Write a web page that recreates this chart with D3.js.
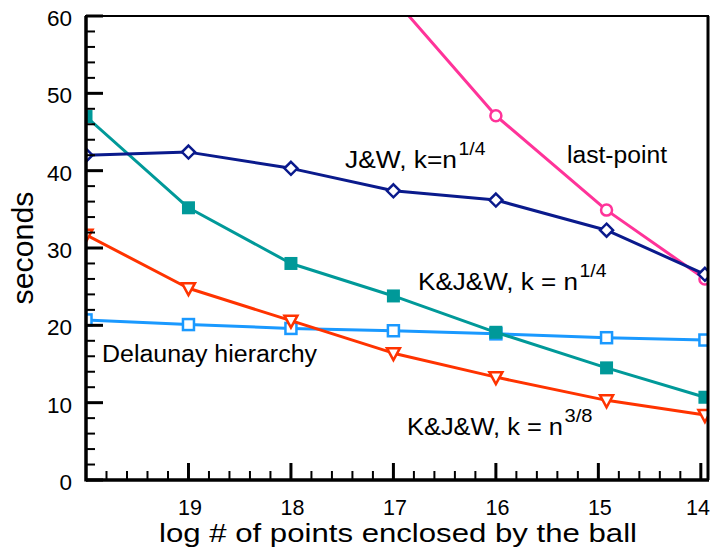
<!DOCTYPE html>
<html>
<head>
<meta charset="utf-8">
<script src="https://cdn.jsdelivr.net/npm/d3@7"></script>
<style>
  body { margin: 0; background: #fff; }
  svg { display: block; }
  text { font-family: "Liberation Sans", Arial, Helvetica, sans-serif; fill: #000; }
</style>
</head>
<body>
<svg id="chart" width="712" height="559"></svg>
<script>
// ---- data ----
const xValues = [20, 19, 18, 17, 16, 14.92, 13.96];
const jwQuarter = [42.0, 42.4, 40.3, 37.4, 36.2, 32.3, 26.6];          // J&W, k=n^1/4
const lastPointX = [17, 16, 14.92, 13.96];
const lastPoint = [62.3, 47.1, 34.9, 26.0];                             // last-point
const kjwQuarter = [47.0, 35.2, 28.0, 23.8, 19.1, 14.5, 10.7];          // K&J&W, k=n^1/4
const delaunay = [20.7, 20.1, 19.6, 19.3, 18.9, 18.4, 18.1];           // Delaunay hierarchy
const kjwThreeEighths = [31.7, 24.8, 20.6, 16.4, 13.3, 10.3, 8.4];     // K&J&W, k=n^3/8
const yTicks = [0, 10, 20, 30, 40, 50, 60];
const xTicks = [19, 18, 17, 16, 15, 14];

const svg = d3.select("#chart");
const pLeft = 86, pRight = 708, pTop = 16, pBottom = 480;
const x = d3.scaleLinear().domain([20, 13.93]).range([pLeft, pRight]);
const y = d3.scaleLinear().domain([0, 60]).range([pBottom, pTop]);

svg.append("defs").append("clipPath").attr("id", "clip")
  .append("rect").attr("x", pLeft).attr("y", pTop).attr("width", pRight - pLeft).attr("height", pBottom - pTop);

const plot = svg.append("g").attr("clip-path", "url(#clip)");

const line = d3.line().x(d => x(d[0])).y(d => y(d[1]));

function series(xs, ys, color, marker) {
  const pts = xs.map((xv, i) => [xv, ys[i]]);
  plot.append("path").datum(pts).attr("d", line)
    .attr("fill", "none").attr("stroke", color).attr("stroke-width", 3).attr("stroke-linejoin", "round");
  const g = plot.append("g");
  pts.forEach(p => {
    const cx = x(p[0]), cy = y(p[1]);
    if (marker === "diamond") {
      g.append("path").attr("d", `M${cx},${cy-6.5}L${cx+6.5},${cy}L${cx},${cy+6.5}L${cx-6.5},${cy}Z`)
        .attr("fill", "#fff").attr("stroke", color).attr("stroke-width", 2.5);
    } else if (marker === "circle") {
      g.append("circle").attr("cx", cx).attr("cy", cy).attr("r", 5.5)
        .attr("fill", "#fff").attr("stroke", color).attr("stroke-width", 2.5);
    } else if (marker === "fsquare") {
      g.append("rect").attr("x", cx - 6.5).attr("y", cy - 6.5).attr("width", 13).attr("height", 13)
        .attr("fill", color);
    } else if (marker === "osquare") {
      g.append("rect").attr("x", cx - 5.5).attr("y", cy - 5.5).attr("width", 11).attr("height", 11)
        .attr("fill", "#fff").attr("stroke", color).attr("stroke-width", 2.5);
    } else if (marker === "tri") {
      g.append("path").attr("d", `M${cx-6.5},${cy-5}L${cx+6.5},${cy-5}L${cx},${cy+7}Z`)
        .attr("fill", "#fff").attr("stroke", color).attr("stroke-width", 2.5).attr("stroke-linejoin", "miter");
    }
  });
}

series(xValues, delaunay, "#1a99ff", "osquare");
series(xValues, kjwThreeEighths, "#ff3300", "tri");
series(xValues, kjwQuarter, "#009999", "fsquare");
series(lastPointX, lastPoint, "#ff3399", "circle");
series(xValues, jwQuarter, "#0a1a8c", "diamond");

// ---- axes ----
const yMinor = d3.range(0, 61, 2).filter(v => v % 10 !== 0);
const yAxis = svg.append("g");
yMinor.forEach(v => yAxis.append("line").attr("x1", pLeft).attr("x2", pLeft + 9).attr("y1", y(v)).attr("y2", y(v))
  .attr("stroke", "#000").attr("stroke-width", 2));
yTicks.forEach(v => {
  yAxis.append("line").attr("x1", pLeft).attr("x2", pLeft + 17).attr("y1", y(v)).attr("y2", y(v))
    .attr("stroke", "#000").attr("stroke-width", 3);
  yAxis.append("text").attr("x", 72).attr("y", y(v) + 10).attr("text-anchor", "end")
    .attr("font-size", 22.5).text(v);
});

const xMinor = d3.range(0, 31).map(i => 20 - i * 0.2).filter(v => Math.abs(v - Math.round(v)) > 0.01);
const xAxis = svg.append("g");
xMinor.forEach(v => xAxis.append("line").attr("x1", x(v)).attr("x2", x(v)).attr("y1", pBottom).attr("y2", pBottom - 9)
  .attr("stroke", "#000").attr("stroke-width", 2));
xTicks.forEach(v => {
  xAxis.append("line").attr("x1", x(v)).attr("x2", x(v)).attr("y1", pBottom).attr("y2", pBottom - 17)
    .attr("stroke", "#000").attr("stroke-width", 3);
  xAxis.append("text").attr("x", Math.min(x(v) + 1.5, 698)).attr("y", 515).attr("text-anchor", "middle")
    .attr("font-size", 21.5).text(v);
});

// frame
svg.append("rect").attr("x", pLeft).attr("y", pTop).attr("width", pRight - pLeft).attr("height", pBottom - pTop)
  .attr("fill", "none").attr("stroke", "#000").attr("stroke-width", 2);
svg.append("line").attr("x1", pLeft).attr("x2", pLeft).attr("y1", pTop).attr("y2", pBottom + 1.5)
  .attr("stroke", "#000").attr("stroke-width", 3.5);
svg.append("line").attr("x1", pLeft).attr("x2", pRight + 1).attr("y1", pBottom).attr("y2", pBottom)
  .attr("stroke", "#000").attr("stroke-width", 3.5);
svg.append("line").attr("x1", pRight).attr("x2", pRight).attr("y1", pTop).attr("y2", pBottom)
  .attr("stroke", "#000").attr("stroke-width", 3);

// axis titles
svg.append("text").attr("transform", "translate(33,248) rotate(-90)").attr("text-anchor", "middle")
  .attr("font-size", 30).attr("textLength", 113).attr("lengthAdjust", "spacingAndGlyphs").text("seconds");
svg.append("text").attr("x", 159).attr("y", 542)
  .attr("font-size", 26).attr("textLength", 478).attr("lengthAdjust", "spacingAndGlyphs")
  .text("log # of points enclosed by the ball");

// series labels
function label(xp, yp, main, width, sup, supW) {
  svg.append("text").attr("x", xp).attr("y", yp).attr("font-size", 23)
    .attr("textLength", width).attr("lengthAdjust", "spacingAndGlyphs").text(main);
  if (sup) svg.append("text").attr("x", xp + width + 1.5).attr("y", yp - 13).attr("font-size", 19)
    .attr("textLength", supW).attr("lengthAdjust", "spacingAndGlyphs").text(sup);
}
label(345, 168, "J&W, k=n", 112, "1/4", 27);
label(567, 163, "last-point", 100);
label(418, 290, "K&J&W, k = n", 160, "1/4", 27);
label(102, 362, "Delaunay hierarchy", 215);
label(407, 435, "K&J&W, k = n", 156, "3/8", 28);
</script>
</body>
</html>
